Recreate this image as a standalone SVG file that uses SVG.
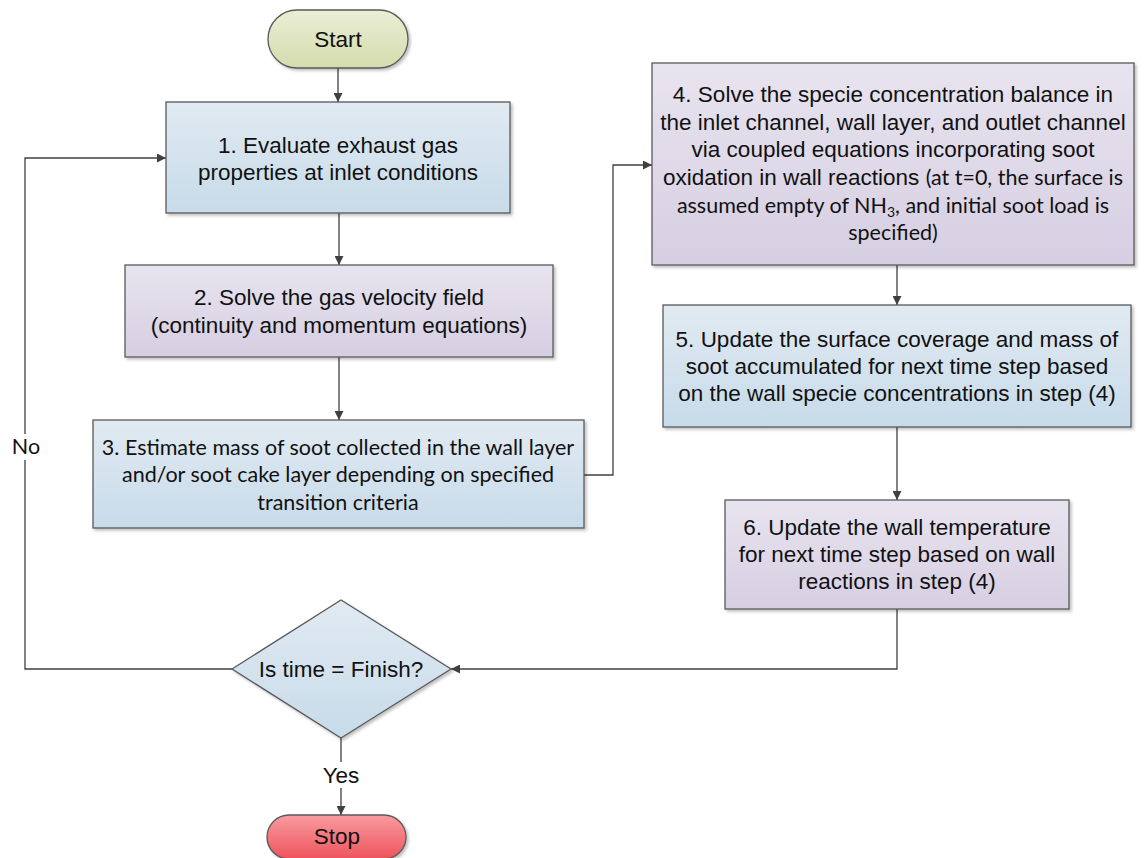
<svg xmlns="http://www.w3.org/2000/svg" width="1144" height="858" viewBox="0 0 1144 858">
<defs>
<linearGradient id="gBlue" x1="0" y1="0" x2="0" y2="1"><stop offset="0" stop-color="#e1eaf2"/><stop offset="1" stop-color="#c7dbe9"/></linearGradient>
<linearGradient id="gPurp" x1="0" y1="0" x2="0" y2="1"><stop offset="0" stop-color="#e8e4ef"/><stop offset="1" stop-color="#d6cee2"/></linearGradient>
<linearGradient id="gGreen" x1="0" y1="0" x2="0" y2="1"><stop offset="0" stop-color="#eaeed5"/><stop offset="1" stop-color="#d4dcae"/></linearGradient>
<linearGradient id="gRed" x1="0" y1="0" x2="0" y2="1"><stop offset="0" stop-color="#f99ba0"/><stop offset="1" stop-color="#ee545c"/></linearGradient>
<filter id="sh" x="-5%" y="-5%" width="115%" height="120%"><feDropShadow dx="2" dy="2" stdDeviation="1.5" flood-color="#000" flood-opacity="0.25"/></filter>
<marker id="ah" viewBox="0 0 10 10" refX="10" refY="5" markerWidth="9" markerHeight="9" markerUnits="userSpaceOnUse" orient="auto"><path d="M0,0 L10,5 L0,10 z" fill="#404040"/></marker>
</defs>
<style>
.box{stroke:#5a5a5a;stroke-width:1.3;filter:url(#sh)}
.blue{fill:url(#gBlue)}
.purp{fill:url(#gPurp)}
.ar{font-family:"Liberation Sans",Arial,sans-serif;font-size:22.5px;fill:#111;text-anchor:middle}
.ca{font-family:Lato,"Open Sans",sans-serif;font-size:21.5px;fill:#111;text-anchor:middle}
.cn{fill:none;stroke:#404040;stroke-width:1.3}
.lbl{fill:#fff}
</style>
<rect width="1144" height="858" fill="#fff"/>
<g id="connectors">
<path class="cn" d="M338,68 V102" marker-end="url(#ah)"/>
<path class="cn" d="M339,213 V265" marker-end="url(#ah)"/>
<path class="cn" d="M339,357 V420" marker-end="url(#ah)"/>
<path class="cn" d="M584,475 H613 V165 H652" marker-end="url(#ah)"/>
<path class="cn" d="M897,265 V305" marker-end="url(#ah)"/>
<path class="cn" d="M897,427 V500" marker-end="url(#ah)"/>
<path class="cn" d="M897,609 V669 H451" marker-end="url(#ah)"/>
<path class="cn" d="M341,738 V815" marker-end="url(#ah)"/>
<path class="cn" d="M232,669 H25 V158 H166" marker-end="url(#ah)"/>
<rect class="lbl" x="10" y="434" width="32" height="26"/>
<text class="ca" x="26" y="454">No</text>
<rect class="lbl" x="320" y="762" width="42" height="26"/>
<text class="ar" x="341" y="783">Yes</text>
</g>
<g id="start">
<rect class="box" x="268" y="10" width="140" height="58" rx="29" fill="url(#gGreen)"/>
<text class="ar" x="338" y="47">Start</text>
</g>
<g id="step1">
<rect class="box blue" x="166" y="102" width="344" height="111"/>
<text class="ar" x="338" y="153">1. Evaluate exhaust gas</text>
<text class="ar" x="338" y="180">properties at inlet conditions</text>
</g>
<g id="step2">
<rect class="box purp" x="125" y="265" width="428" height="92"/>
<text class="ar" x="339" y="305">2. Solve the gas velocity field</text>
<text class="ar" x="339" y="333">(continuity and momentum equations)</text>
</g>
<g id="step3">
<rect class="box blue" x="93" y="420" width="491" height="108"/>
<text class="ca" x="338" y="455">3. Estimate mass of soot collected in the wall layer</text>
<text class="ca" x="338" y="482">and/or soot cake layer depending on specified</text>
<text class="ca" x="338" y="510">transition criteria</text>
</g>
<g id="step4">
<rect class="box purp" x="652" y="63" width="482" height="202"/>
<text class="ar" x="893" y="102">4. Solve the specie concentration balance in</text>
<text class="ar" x="893" y="130">the inlet channel, wall layer, and outlet channel</text>
<text class="ar" x="893" y="157">via coupled equations incorporating soot</text>
<text class="ar" x="893" y="185">oxidation in wall reactions <tspan style="font-family:Lato,'Open Sans',sans-serif;font-size:21.5px">(at t=0, the surface is</tspan></text>
<text class="ca" x="893" y="213">assumed empty of NH<tspan font-size="14" dy="4">3</tspan><tspan dy="-4">, and initial soot load is</tspan></text>
<text class="ca" x="893" y="240">specified)</text>
</g>
<g id="step5">
<rect class="box blue" x="663" y="305" width="468" height="122"/>
<text class="ar" x="897" y="347">5. Update the surface coverage and mass of</text>
<text class="ar" x="897" y="374">soot accumulated for next time step based</text>
<text class="ar" x="897" y="401">on the wall specie concentrations in step (4)</text>
</g>
<g id="step6">
<rect class="box purp" x="725" y="500" width="344" height="109"/>
<text class="ar" x="897" y="535">6. Update the wall temperature</text>
<text class="ar" x="897" y="562">for next time step based on wall</text>
<text class="ar" x="897" y="589">reactions in step (4)</text>
</g>
<g id="decision">
<polygon class="box blue" points="232,669 341,600 451,669 341,738"/>
<text class="ar" x="341" y="677">Is time = Finish?</text>
</g>
<g id="stop">
<rect class="box" x="267" y="815" width="139" height="44" rx="22" fill="url(#gRed)"/>
<text class="ar" x="337" y="844">Stop</text>
</g>
</svg>
